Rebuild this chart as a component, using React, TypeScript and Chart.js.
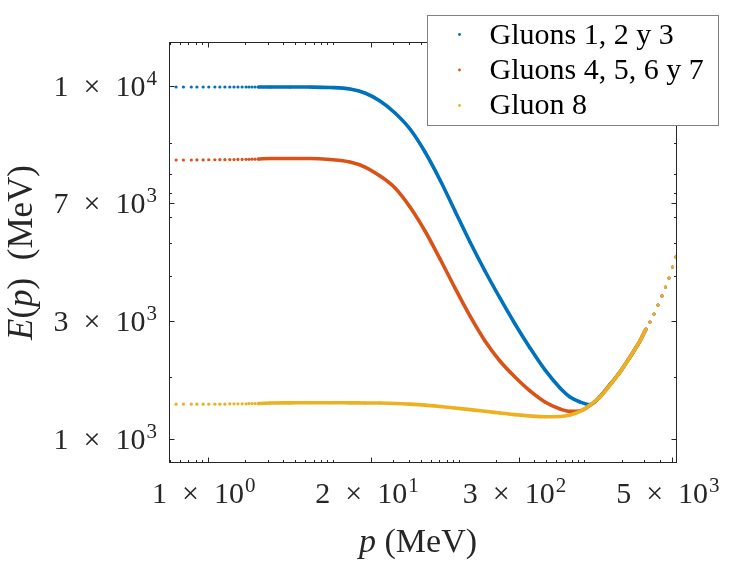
import React, { useEffect, useRef } from 'react';
import { Chart, registerables } from 'chart.js';

Chart.register(...registerables);

// momentum samples (MeV): sparse dots on the left, the dense part, sparse dots on the right
const pLeftDots = [0.56, 0.64, 0.74, 0.82, 0.92, 1.02, 1.14, 1.25, 1.37, 1.5, 1.62, 1.74, 1.88, 2.02, 2.13, 2.25, 2.38, 2.52];
const pCurve = [3.14, 4.53, 6.53, 9.43, 13.6, 17.9, 23.6, 31.1, 40.9, 53.9, 71.0, 93.4, 123, 162, 213, 281, 370, 487, 642, 771, 926, 1112, 1336, 1606, 1929, 2317, 2783];
const pRightDots = [3108, 3345, 3599, 3873, 4168, 4444, 4740, 5053, 5388];

// E(p) in MeV
const eGluons123 = [
  9935, 9935, 9935, 9935, 9935, 9935, 9935, 9935, 9935, 9935, 9935, 9935, 9935, 9935, 9935, 9935, 9935, 9935,
  9935, 9935, 9930, 9903, 9806, 9555, 9068, 8385, 7553, 6502, 5416, 4425, 3614, 2992, 2509, 2117, 1811, 1569,
  1395, 1315, 1273, 1252, 1319, 1427, 1548, 1707, 1895,
  2049, 2145, 2260, 2396, 2542, 2695, 2858, 3071, 3279,
];
const eGluons4567 = [
  6170, 6170, 6170, 6175, 6175, 6180, 6180, 6185, 6185, 6190, 6190, 6195, 6195, 6200, 6200, 6205, 6205, 6210,
  6231, 6231, 6231, 6191, 6091, 5895, 5560, 5141, 4542, 3884, 3236, 2678, 2231, 1895, 1663, 1498, 1368, 1273,
  1216, 1197, 1201, 1245, 1316, 1423, 1548, 1707, 1895,
  2049, 2145, 2260, 2396, 2542, 2695, 2858, 3071, 3279,
];
const eGluon8 = [
  1255, 1255, 1255, 1255, 1255, 1255, 1255, 1255, 1255, 1258, 1258, 1258, 1258, 1258, 1260, 1260, 1260, 1260,
  1265, 1266, 1267, 1267, 1266, 1265, 1264, 1261, 1255, 1247, 1236, 1224, 1211, 1198, 1185, 1172, 1162, 1156,
  1158, 1170, 1197, 1248, 1315, 1422, 1548, 1707, 1895,
  2049, 2145, 2260, 2396, 2542, 2695, 2858, 3071, 3279,
];

const seriesLabels = ['Gluons 1, 2 y 3', 'Gluons 4, 5, 6 y 7', 'Gluon 8'];
const seriesColors = ['#0072BD', '#D95319', '#EDB120'];

const xMajorTicks = [1, 20, 300, 5000];
const xTickLabels = ['1 × 10^0', '2 × 10^1', '3 × 10^2', '5 × 10^3'];
const xMinorTicks = [0.5, 0.6, 0.7, 0.8, 0.9, 2, 3, 4, 5, 6, 7, 8, 9, 10, 30, 40, 50, 60, 70, 80, 90, 100, 200, 400, 500, 600, 700, 800, 900, 1000, 2000, 3000, 4000];

const yMajorTicks = [1000, 2158, 4656, 10000];
const yTickLabels = ['1 × 10^3', '3 × 10^3', '7 × 10^3', '1 × 10^4'];
const yMinorTicks = [1498, 2896, 3592, 4255, 4977, 5633, 6895];

const SERIF = '"Liberation Serif", "Times New Roman", serif';
const AXIS = '#262626';
const TICK_SIZE = 30;

const framePlugin = {
  id: 'matlabFrame',
  afterDraw(chart: any) {
    const { ctx, chartArea: a, scales } = chart;
    const sx = scales.x;
    const sy = scales.y;
    ctx.save();
    ctx.strokeStyle = AXIS;
    ctx.lineWidth = 1;

    const seg = (x0: number, y0: number, x1: number, y1: number) => {
      ctx.beginPath();
      ctx.moveTo(x0, y0);
      ctx.lineTo(x1, y1);
      ctx.stroke();
    };
    const L = Math.round(a.left) + 0.5;
    const R = Math.round(a.right) - 0.5;
    const T = Math.round(a.top) + 0.5;
    const B = Math.round(a.bottom) - 0.5;
    ctx.strokeRect(L, T, R - L, B - T);

    const xTick = (v: number, len: number) => {
      const px = Math.round(sx.getPixelForValue(v)) + 0.5;
      seg(px, B, px, B - len);
      seg(px, T, px, T + len);
    };
    const yTick = (v: number, len: number) => {
      const py = Math.round(sy.getPixelForValue(v)) + 0.5;
      seg(L, py, L + len, py);
      seg(R, py, R - len, py);
    };
    xMajorTicks.forEach((v) => xTick(v, 5));
    xMinorTicks.forEach((v) => xTick(v, 2.5));
    yMajorTicks.forEach((v) => yTick(v, 5));
    yMinorTicks.forEach((v) => yTick(v, 2.5));

    // tick labels "m × 10^e" with a real superscript
    ctx.fillStyle = AXIS;
    ctx.textBaseline = 'alphabetic';
    ctx.textAlign = 'left';
    const baseFont = `${TICK_SIZE}px ${SERIF}`;
    const expFont = `${Math.round(TICK_SIZE * 0.7)}px ${SERIF}`;
    const sciWidth = (label: string) => {
      const [m, e] = label.split('^');
      ctx.font = baseFont;
      const wb = ctx.measureText(m.replace(/ /g, '\u2002')).width;
      ctx.font = expFont;
      return { m: m.replace(/ /g, '\u2002'), e, wb, we: ctx.measureText(e).width };
    };
    const drawSci = (label: string, left: number, baseline: number) => {
      const s = sciWidth(label);
      ctx.font = baseFont;
      ctx.fillText(s.m, left, baseline);
      ctx.font = expFont;
      ctx.fillText(s.e, left + s.wb + 1, baseline - 11);
      return s.wb + s.we + 1;
    };
    xMajorTicks.forEach((v, i) => {
      const s = sciWidth(xTickLabels[i]);
      const w = s.wb + s.we + 1;
      drawSci(xTickLabels[i], sx.getPixelForValue(v) - 4 - w / 2, a.bottom + 40);
    });
    yMajorTicks.forEach((v, i) => {
      const s = sciWidth(yTickLabels[i]);
      const w = s.wb + s.we + 1;
      drawSci(yTickLabels[i], a.left - 12 - w, sy.getPixelForValue(v) + 10);
    });

    // axis titles with italic math symbols
    const drawRich = (parts: { t: string; i: boolean }[], size: number) => {
      const fonts = parts.map((p) => `${p.i ? 'italic ' : ''}${size}px ${SERIF}`);
      const widths = parts.map((p, k) => {
        ctx.font = fonts[k];
        return ctx.measureText(p.t).width;
      });
      let cx = -widths.reduce((s, w) => s + w, 0) / 2;
      parts.forEach((p, k) => {
        ctx.font = fonts[k];
        ctx.fillText(p.t, cx, 0);
        cx += widths[k];
      });
    };

    ctx.save();
    ctx.translate((a.left + a.right) / 2 - 5, a.bottom + 89);
    drawRich([{ t: 'p', i: true }, { t: ' (MeV)', i: false }], 34);
    ctx.restore();

    ctx.save();
    ctx.translate(a.left - 137, (a.top + a.bottom) / 2);
    ctx.rotate(-Math.PI / 2);
    drawRich([{ t: 'E', i: true }, { t: '(', i: false }, { t: 'p', i: true }, { t: ')\u2002(MeV)', i: false }], 35);
    ctx.restore();

    // legend box
    const bx = Math.round(a.right) - 249.5;
    const by = Math.round(a.top) - 26.5;
    ctx.fillStyle = '#ffffff';
    ctx.fillRect(bx, by, 291, 110);
    ctx.strokeStyle = '#808080';
    ctx.strokeRect(bx, by, 291, 110);
    ctx.font = `30px ${SERIF}`;
    chart.data.datasets.forEach((ds: any, k: number) => {
      ctx.fillStyle = ds.pointBackgroundColor;
      ctx.beginPath();
      ctx.arc(bx + 32, by + 19 + k * 35.5, 1.4, 0, Math.PI * 2);
      ctx.fill();
      ctx.fillStyle = '#000000';
      ctx.fillText(ds.label, bx + 62, by + 28 + k * 35);
    });
    ctx.restore();
  },
};

export default function App() {
  const canvasRef = useRef<HTMLCanvasElement>(null);

  useEffect(() => {
    if (!canvasRef.current) return;
    const pAll = [...pLeftDots, ...pCurve, ...pRightDots];
    const leftN = pLeftDots.length;
    const rightStart = pLeftDots.length + pCurve.length;
    const series = [eGluons123, eGluons4567, eGluon8];

    const chart = new Chart(canvasRef.current, {
      type: 'scatter',
      data: {
        datasets: series.map((e, k) => ({
          label: seriesLabels[k],
          data: e.map((v, i) => ({ x: pAll[i], y: v })),
          showLine: true,
          borderColor: seriesColors[k],
          backgroundColor: seriesColors[k],
          pointBackgroundColor: seriesColors[k],
          borderWidth: 3.6,
          pointRadius: 1.6,
          pointBorderWidth: 0,
          pointHoverRadius: 1.6,
          cubicInterpolationMode: 'monotone' as const,
          order: 2 - k,
          segment: {
            // the sparse ends are drawn as separate dots only
            borderColor: (ctx: any) =>
              ctx.p1DataIndex < leftN || ctx.p0DataIndex >= rightStart ? 'rgba(0,0,0,0)' : undefined,
          },
        })),
      },
      options: {
        responsive: false,
        animation: false,
        events: [],
        layout: { padding: { top: 42, right: 70, left: 0, bottom: 0 } },
        plugins: {
          legend: { display: false },
          tooltip: { enabled: false },
        },
        scales: {
          x: {
            type: 'logarithmic',
            min: 0.4915,
            max: 5489,
            afterBuildTicks: (s: any) => {
              s.ticks = xMajorTicks.map((v) => ({ value: v }));
            },
            afterFit: (s: any) => {
              s.height = 98;
            },
            ticks: { display: false },
            grid: { display: false, drawTicks: false },
            border: { display: false },
          },
          y: {
            type: 'logarithmic',
            min: 855,
            max: 13324,
            afterBuildTicks: (s: any) => {
              s.ticks = yMajorTicks.map((v) => ({ value: v }));
            },
            afterFit: (s: any) => {
              s.width = 169;
            },
            ticks: { display: false },
            grid: { display: false, drawTicks: false },
            border: { display: false },
          },
        },
      },
      plugins: [framePlugin],
    });

    return () => chart.destroy();
  }, []);

  return (
    <div style={{ position: 'fixed', left: 0, top: 0, width: 747, height: 561, background: '#ffffff' }}>
      <canvas ref={canvasRef} width={747} height={561} style={{ display: 'block' }} />
    </div>
  );
}
